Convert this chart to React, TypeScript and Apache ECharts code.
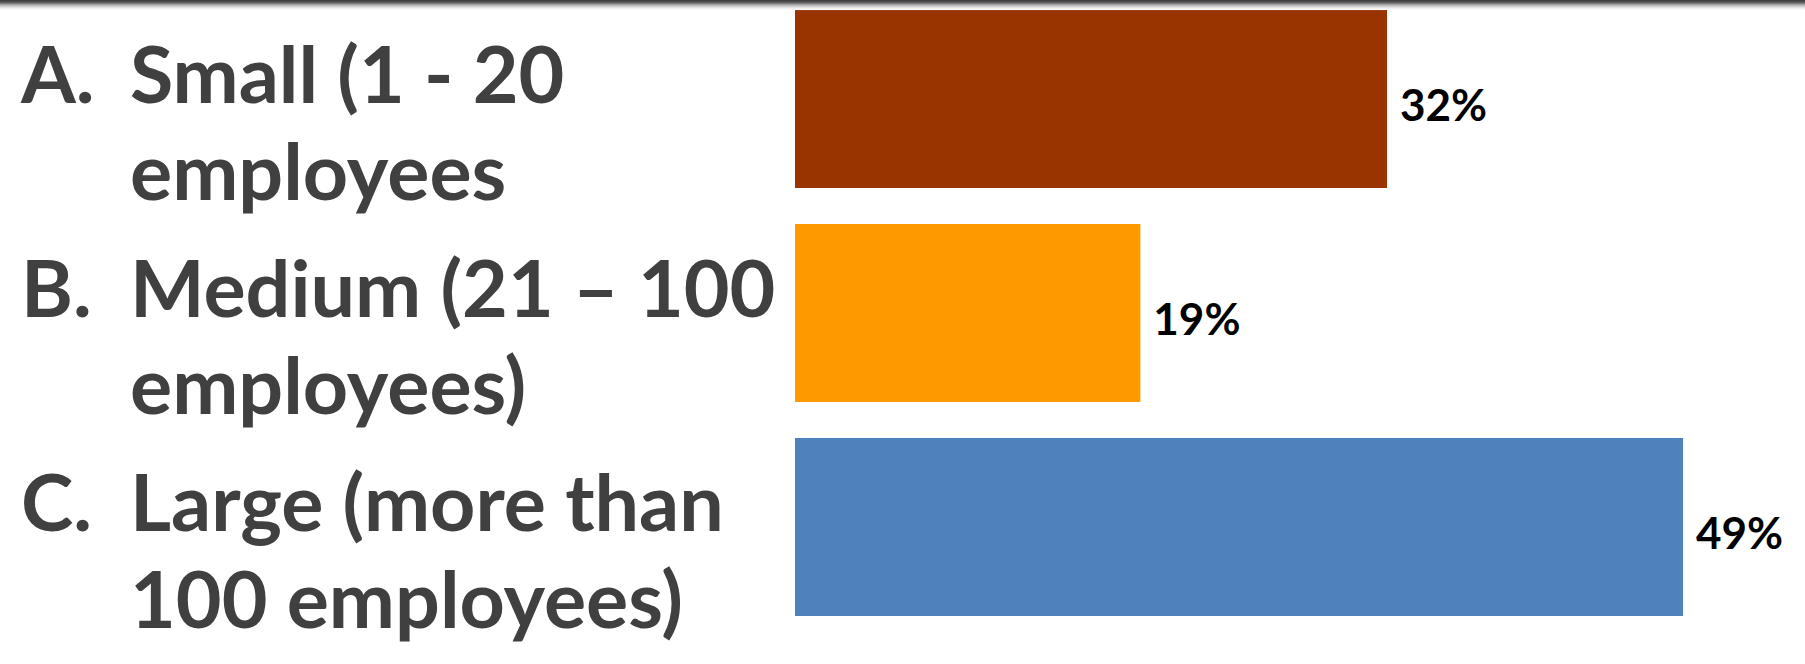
import React, { useEffect, useRef } from "react";
import * as echarts from "echarts";

// ---- data ----
const letters = ["A.", "B.", "C."];
const categories = [
  "Small (1 - 20\nemployees",
  "Medium (21 – 100\nemployees)",
  "Large (more than\n100 employees)",
];
// shares (labels are shown rounded)
const percents = [32.4, 18.9, 48.6];

// ---- styles ----
const barColors = ["#993300", "#FF9900", "#4F81BD"];
const textGray = "#404040";

export default function App() {
  const ref = useRef<HTMLDivElement>(null);
  useEffect(() => {
    if (!ref.current) return;
    const chart = echarts.init(ref.current, null, { renderer: "svg" });
    chart.setOption({
      animation: false,
      backgroundColor: "#ffffff",
      grid: {
        left: 795,
        right: 5,
        top: -8,
        bottom: 30,
        containLabel: false,
        outerBoundsMode: "none",
      },
      xAxis: {
        type: "value",
        min: 0,
        max: 55,
        show: false,
        splitLine: { show: false },
      },
      yAxis: {
        type: "category",
        inverse: true,
        data: categories,
        axisLine: { show: false },
        axisTick: { show: false },
        splitLine: { show: false },
        axisLabel: {
          show: true,
          interval: 0,
          align: "left",
          margin: 774,
          padding: [44, 0, 0, 0],
          formatter: (value: string, idx: number) => {
            const lines = value.split("\n");
            return (
              `{n|${letters[idx]}}{t|${lines[0]}}\n` +
              `{n| }{t|${lines[1] ?? ""}}`
            );
          },
          rich: {
            n: {
              width: 109,
              fontSize: 79,
              fontWeight: "bold",
              fontFamily: "Lato",
              color: textGray,
              lineHeight: 97,
            },
            t: {
              fontSize: 79,
              fontWeight: "bold",
              fontFamily: "Lato",
              color: textGray,
              lineHeight: 97,
            },
          },
        },
      },
      graphic: [
        {
          type: "rect",
          left: 0,
          top: 0,
          shape: { width: 1805, height: 11 },
          style: {
            fill: new echarts.graphic.LinearGradient(0, 0, 0, 1, [
              { offset: 0, color: "#3a3a3a" },
              { offset: 0.2, color: "#555555" },
              { offset: 0.35, color: "#8a8a8a" },
              { offset: 1, color: "rgba(255,255,255,0)" },
            ]),
          },
          z: 100,
        },
      ],
      series: [
        {
          type: "bar",
          barWidth: 178,
          data: percents.map((v, i) => ({
            value: v,
            itemStyle: { color: barColors[i] },
          })),
          label: {
            show: true,
            position: "right",
            distance: 13,
            offset: [0, 5],
            formatter: (p: any) => `${Math.round(p.value)}%`,
            fontSize: 44,
            fontWeight: "bold",
            fontFamily: "Lato",
            color: "#000000",
          },
        },
      ],
    });
    return () => chart.dispose();
  }, []);
  return (
    <div
      ref={ref}
      style={{ position: "absolute", left: 0, top: 0, width: 1805, height: 664 }}
    />
  );
}
